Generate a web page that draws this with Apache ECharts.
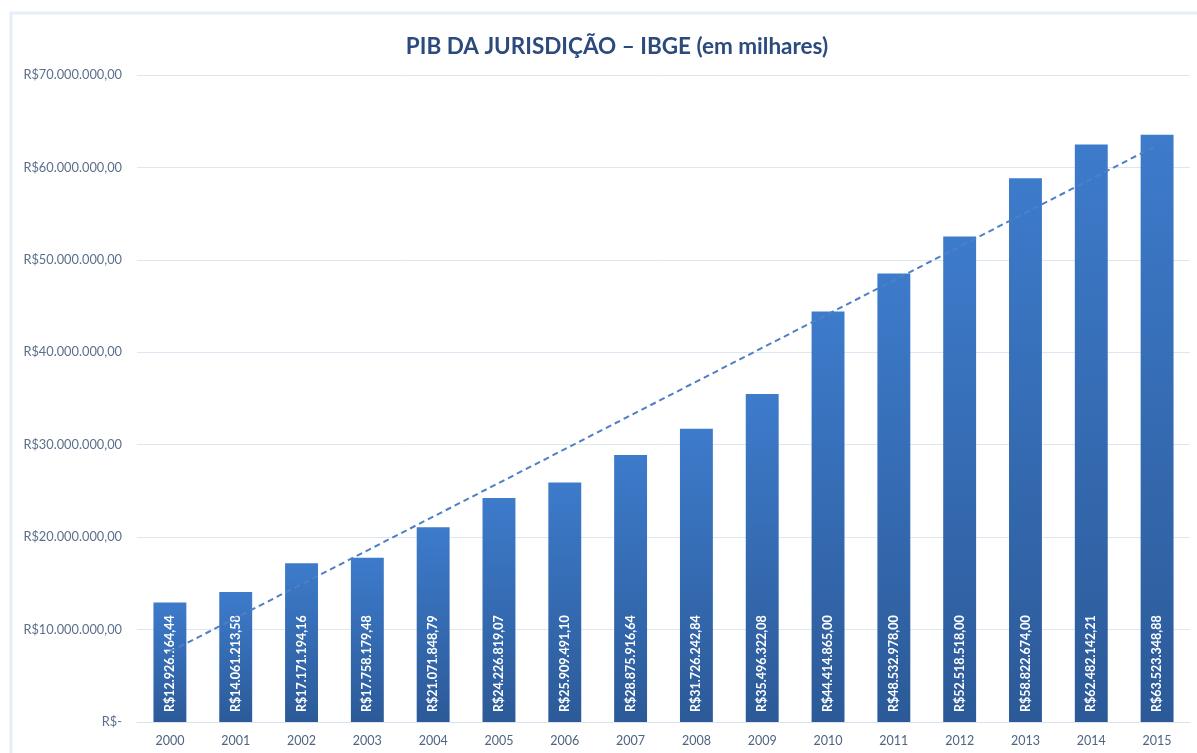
<!DOCTYPE html>
<html>
<head>
<meta charset="utf-8">
<script src="https://cdn.jsdelivr.net/npm/echarts@6/dist/echarts.min.js"></script>
<style>
html,body{margin:0;padding:0;background:#fff;}
#chart{width:1197px;height:753px;}
</style>
</head>
<body>
<div id="chart"></div>
<script>
var years = ['2000','2001','2002','2003','2004','2005','2006','2007','2008','2009','2010','2011','2012','2013','2014','2015'];
var pib = [12926164.44, 14061213.58, 17171194.16, 17758179.48, 21071848.79, 24226819.07, 25909491.10, 28875916.64, 31726242.84, 35496322.08, 44414865.00, 48532978.00, 52518518.00, 58822674.00, 62482142.21, 63523348.88];
var trendYears = ['2000', '2015'];
var trendValues = [7600000, 62400000];
var titleText = 'PIB DA JURISDIÇÃO – IBGE (em milhares)';

function fmtBR(v, dec) {
  var parts = v.toFixed(dec).split('.');
  var intPart = parts[0].replace(/\B(?=(\d{3})+(?!\d))/g, '.');
  return 'R$' + intPart + (dec > 0 ? ',' + parts[1] : '');
}

var chart = echarts.init(document.getElementById('chart'));
chart.setOption({
  animation: false,
  backgroundColor: '#ffffff',
  title: {
    text: titleText,
    left: 612,
    textAlign: 'center',
    top: 30,
    textStyle: {fontFamily: 'Lato', fontSize: 22.5, fontWeight: 'bold', color: '#2b4a7d'}
  },
  graphic: [{
    type: 'polyline',
    shape: {points: [[11, 753], [11, 13], [1197, 13]]},
    style: {stroke: '#e4edf8', lineWidth: 3, fill: null},
    silent: true
  }],
  grid: {left: 137, right: 7, top: 75, bottom: 31, containLabel: false},
  xAxis: {
    type: 'category',
    data: years,
    axisLine: {show: true, lineStyle: {color: '#d9e2ee', width: 1}},
    axisTick: {show: false},
    axisLabel: {color: '#4f6482', fontFamily: 'Lato', fontSize: 12.5, margin: 12}
  },
  yAxis: {
    type: 'value',
    min: 0, max: 70000000, interval: 10000000,
    axisLine: {show: false},
    axisTick: {show: false},
    splitLine: {lineStyle: {color: '#dde6f1', width: 1}},
    axisLabel: {
      color: '#5b6f8c', fontFamily: 'Lato', fontSize: 12.8, margin: 15,
      formatter: function (v) { return v === 0 ? 'R$-' : fmtBR(v, 2); }
    }
  },
  series: [{
    type: 'bar',
    data: pib,
    barWidth: '50%',
    itemStyle: {
      color: new echarts.graphic.LinearGradient(0, 0, 0, 1, [
        {offset: 0, color: '#3d7bcb'},
        {offset: 1, color: '#2c5a98'}
      ])
    },
    label: {
      show: true,
      position: 'insideBottom',
      rotate: 90,
      align: 'left',
      verticalAlign: 'middle',
      distance: 10,
      color: '#ffffff',
      fontFamily: 'Lato',
      fontWeight: 'bold',
      fontSize: 12.5,
      formatter: function (p) { return fmtBR(p.value, 2); }
    }
  }, {
    type: 'line',
    data: trendYears.map(function (y, i) { return [y, trendValues[i]]; }),
    symbol: 'none',
    lineStyle: {color: '#4f80c4', width: 2, type: [6, 4]},
    z: 5
  }]
});
</script>
</body>
</html>
